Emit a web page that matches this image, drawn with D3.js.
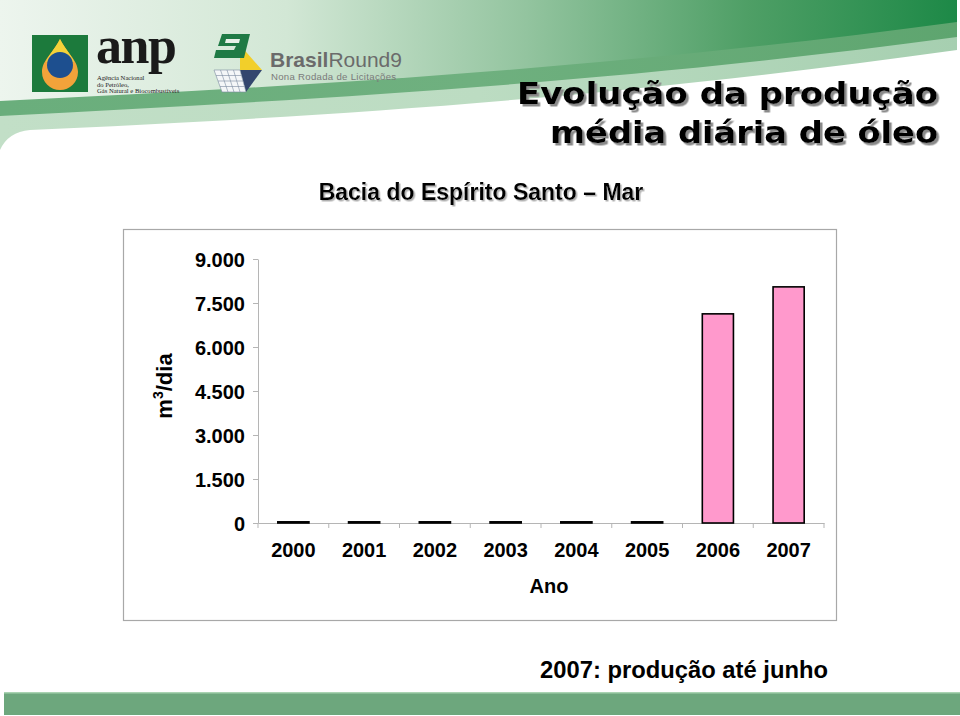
<!DOCTYPE html>
<html><head><meta charset="utf-8">
<script src="https://cdn.jsdelivr.net/npm/d3@7"></script>
<style>html,body{margin:0;padding:0;background:#fff;}svg{display:block;}</style>
</head><body>
<svg id="chart" width="960" height="716"></svg>
<script>
// ---- data ----
const years = ["2000","2001","2002","2003","2004","2005","2006","2007"];
const production = [40, 40, 40, 40, 40, 40, 7130, 8050]; // m3/dia
const yTicks = [0, 1500, 3000, 4500, 6000, 7500, 9000];
const titleLines = ["Evolução da produção", "média diária de óleo"];
const subtitle = "Bacia do Espírito Santo – Mar";
const xTitle = "Ano";
const footnote = "2007: produção até junho";

const svg = d3.select("#chart");
const defs = svg.append("defs");

// ---- header decoration ----
function grad(id, stops){
  const g = defs.append("linearGradient").attr("id", id).attr("x1","0").attr("x2","1").attr("y1","0").attr("y2","0");
  stops.forEach(s => g.append("stop").attr("offset", s[0]).attr("stop-color", s[1]));
}
grad("gMain", [[0,"#edf5ee"],[0.3,"#d2e7d5"],[0.55,"#93c49f"],[0.78,"#4f9f66"],[1,"#1d8947"]]);
grad("gStripe", [[0,"#6aae7c"],[0.5,"#6fb07f"],[1,"#5ea56f"]]);
grad("gLight", [[0,"#c2dfc7"],[0.5,"#bcdcc2"],[1,"#a6cfb0"]]);

const sh1 = defs.append("filter").attr("id","shadowT").attr("x","-5%").attr("y","-20%").attr("width","110%").attr("height","140%");
sh1.append("feDropShadow").attr("dx",2.5).attr("dy",2.5).attr("stdDeviation",0.4).attr("flood-color","#8a8a8a").attr("flood-opacity",1);
const sh2 = defs.append("filter").attr("id","shadowS").attr("x","-5%").attr("y","-20%").attr("width","110%").attr("height","140%");
sh2.append("feDropShadow").attr("dx",1.5).attr("dy",1.5).attr("stdDeviation",0.4).attr("flood-color","#b0b0b0").attr("flood-opacity",1);

const R = 957;
svg.append("path").attr("fill","url(#gLight)")
  .attr("d", `M0,0 L${R},0 L${R},50 C600,100 300,118 30,130 Q8,132 0,150 Z`);
svg.append("path").attr("fill","url(#gStripe)")
  .attr("d", `M0,0 L${R},0 L${R},37 C600,85 300,100 0,116 Z`);
svg.append("path").attr("fill","url(#gMain)")
  .attr("d", `M0,0 L${R},0 L${R},22 C600,70 300,86 0,101 Z`);

// anp logo
const anp = svg.append("g");
anp.append("rect").attr("x",32).attr("y",35).attr("width",56).attr("height",57).attr("fill","#1c7a3c");
anp.append("path").attr("fill","#f2a33a")
  .attr("d","M60,39 C66,52 78,60 78,72 A18,18 0 0 1 42,72 C42,60 54,52 60,39 Z");
anp.append("path").attr("fill","#f4d23a")
  .attr("d","M60,39 C66,50 72,56 74,62 L46,62 C48,56 54,50 60,39 Z");
anp.append("circle").attr("cx",60).attr("cy",65).attr("r",13).attr("fill","#1d4f8f");
anp.append("text").attr("x",96).attr("y",63).attr("font-family","Liberation Serif, serif")
  .attr("font-size",52).attr("font-weight","bold").attr("fill","#1a1a1a").attr("letter-spacing",-1.5).text("anp");
["Agência Nacional","do Petróleo,","Gás Natural e Biocombustíveis"].forEach((t,i)=>{
  anp.append("text").attr("x",97).attr("y",[80,86.5,93][i]).attr("font-family","Liberation Serif, serif")
    .attr("font-size",6.6).attr("fill","#222").text(t);
});

// BrasilRound9 logo
const br = svg.append("g");
br.append("path").attr("fill","#f2cf2a").attr("d","M240,45 L262,70 L240,70 Z");
br.append("path").attr("fill","#33466e").attr("d","M240,70 L262,70 L246,92 Z");
br.append("path").attr("fill","#f4f6f8").attr("stroke","#7a8aa0").attr("stroke-width",0.6)
  .attr("d","M214,70 L240,70 L246,92 L222,92 Z");
for(let i=1;i<4;i++){
  br.append("line").attr("x1",214+i*6.5).attr("y1",70).attr("x2",222+i*6).attr("y2",92).attr("stroke","#7a8aa0").attr("stroke-width",0.6);
  br.append("line").attr("x1",214+i*2).attr("y1",70+i*5.5).attr("x2",240+i*1.5).attr("y2",70+i*5.5).attr("stroke","#7a8aa0").attr("stroke-width",0.6);
}
br.append("path").attr("fill","#1f7a45").attr("d","M222,34 L250,34 L244,58 L214,58 L216,50 L234,50 L236,46 L218,46 Z");
br.append("path").attr("fill","#e7f1e8").attr("d","M226,39 L240,39 L239,43 L225,43 Z");
const brT = br.append("text").attr("x",270).attr("y",67).attr("font-family","Liberation Sans, Arial, sans-serif")
  .attr("font-size",21).attr("fill","#6b6b6b");
brT.append("tspan").attr("font-weight","bold").text("Brasil");
brT.append("tspan").text("Round9");
br.append("text").attr("x",271).attr("y",80).attr("font-family","Liberation Sans, Arial, sans-serif")
  .attr("font-size",9.6).attr("fill","#7a7a7a").attr("letter-spacing",0.3).text("Nona Rodada de Licitações");

// ---- titles ----
const titleY = [104, 143];
const titleW = [421, 388];
titleLines.forEach((t,i)=>{
  svg.append("text").attr("x",938).attr("y",titleY[i]).attr("text-anchor","end")
    .attr("font-family","DejaVu Sans, Verdana, sans-serif").attr("font-weight","bold")
    .attr("font-size",30).attr("fill","#000").attr("filter","url(#shadowT)")
    .attr("textLength",titleW[i]).attr("lengthAdjust","spacingAndGlyphs").text(t);
});
svg.append("text").attr("x",481).attr("y",200).attr("text-anchor","middle")
  .attr("font-family","Liberation Sans, Arial, sans-serif").attr("font-weight","bold")
  .attr("font-size",23).attr("fill","#000").attr("filter","url(#shadowS)").text(subtitle);

// ---- chart frame ----
svg.append("rect").attr("x",123.5).attr("y",229.5).attr("width",713).attr("height",391)
  .attr("fill","#fff").attr("stroke","#a8a8a8").attr("stroke-width",1.2);

const x0 = 258, x1 = 824, yBottom = 523, yTop = 259;
const x = d3.scaleBand().domain(years).range([x0, x1]).paddingInner(0.56).paddingOuter(0.28);
const y = d3.scaleLinear().domain([0, 9000]).range([yBottom, yTop]);
const locale = d3.formatLocale({decimal:",", thousands:".", grouping:[3], currency:["R$",""]});
const fmt = locale.format(",.0f");

// y axis
const gy = svg.append("g").attr("transform",`translate(${x0},0)`)
  .call(d3.axisLeft(y).tickValues(yTicks).tickFormat(fmt).tickSize(5).tickSizeOuter(0).tickPadding(8));
gy.select(".domain").attr("stroke","#b5b5b5");
gy.selectAll(".tick line").attr("stroke","#b5b5b5");
gy.selectAll(".tick text").attr("font-family","Liberation Sans, Arial, sans-serif")
  .attr("font-weight","bold").attr("font-size",20).attr("fill","#000").attr("dy","0.36em");

// x axis
const gx = svg.append("g").attr("transform",`translate(0,${yBottom})`)
  .call(d3.axisBottom(x).tickSize(0).tickSizeOuter(0).tickPadding(20));
gx.select(".domain").attr("stroke","#b5b5b5");
gx.selectAll(".tick text").attr("font-family","Liberation Sans, Arial, sans-serif")
  .attr("font-weight","bold").attr("font-size",20).attr("fill","#000");
const step = x.step();
const bounds = years.map(d => x(d) - step*x.paddingInner()/2).concat([x(years[years.length-1]) + x.bandwidth() + step*x.paddingInner()/2]);
gx.selectAll("line.bnd").data(bounds).enter().append("line").attr("class","bnd")
  .attr("x1",d=>d).attr("x2",d=>d).attr("y1",0).attr("y2",5).attr("stroke","#b5b5b5");

// bars
svg.append("g").selectAll("rect").data(years).enter().append("rect")
  .attr("x", d => x(d))
  .attr("width", x.bandwidth())
  .attr("y", (d,i) => y(production[i]))
  .attr("height", (d,i) => yBottom - y(production[i]))
  .attr("fill","#ff99cc").attr("stroke","#000").attr("stroke-width",1.6);

// axis titles
svg.append("text").attr("x",549).attr("y",593).attr("text-anchor","middle")
  .attr("font-family","Liberation Sans, Arial, sans-serif").attr("font-weight","bold")
  .attr("font-size",20).attr("fill","#000").text(xTitle);
const yl = svg.append("text").attr("transform","translate(172,386) rotate(-90)").attr("text-anchor","middle")
  .attr("font-family","Liberation Sans, Arial, sans-serif").attr("font-weight","bold")
  .attr("font-size",22).attr("fill","#000");
yl.append("tspan").text("m");
yl.append("tspan").attr("font-size",14).attr("dy",-9).text("3");
yl.append("tspan").attr("dy",9).text("/dia");

// footnote
svg.append("text").attr("x",540).attr("y",678)
  .attr("font-family","Liberation Sans Narrow, Arial Narrow, Liberation Sans, sans-serif").attr("font-weight","bold")
  .attr("font-size",24).attr("fill","#000")
  .attr("textLength",288).attr("lengthAdjust","spacingAndGlyphs").text(footnote);

// bottom bar
svg.append("rect").attr("x",4).attr("y",692).attr("width",956).attr("height",23).attr("fill","#6da77d");
svg.append("rect").attr("x",4).attr("y",692).attr("width",956).attr("height",1.5).attr("fill","#a9d3b2");
</script>
</body></html>
